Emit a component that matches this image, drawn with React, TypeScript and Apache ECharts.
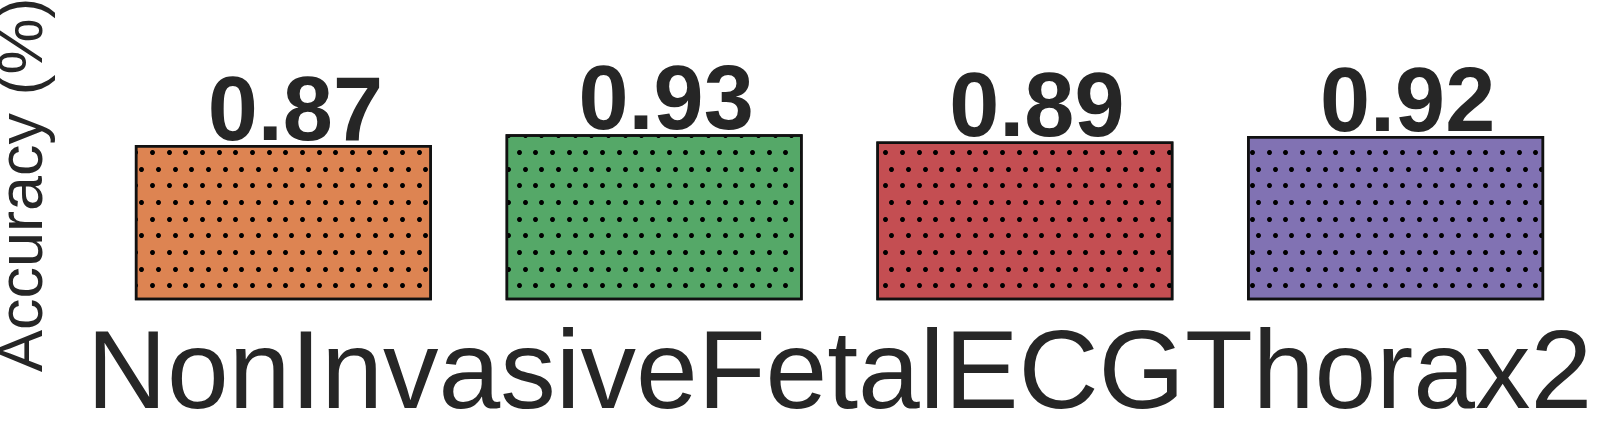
import React, { useEffect, useRef } from "react";
import * as echarts from "echarts";

const categories = ["Model 1", "Model 2", "Model 3", "Model 4"];
const accuracy = [0.87, 0.93, 0.89, 0.92];
const barColors = ["#DD8452", "#55A868", "#C44E52", "#8172B3"];
const xTitle = "NonInvasiveFetalECGThorax2";
const yTitle = "Accuracy (%)";

const FONT = "'Liberation Sans', Arial, Helvetica, sans-serif";

const dotDecal = {
  symbol: "circle",
  symbolSize: 1,
  color: "#000000",
  backgroundColor: null,
  dashArrayX: [
    [5, 12, 5, 11, 5, 12],
    [0, 6, 5, 12, 5, 11, 5, 6],
  ],
  dashArrayY: [5, 12, 5, 11, 5, 12],
};

export default function App() {
  const ref = useRef<HTMLDivElement>(null);
  useEffect(() => {
    if (!ref.current) return;
    const chart = echarts.init(ref.current, undefined, { renderer: "svg" });
    chart.setOption({
      animation: false,
      backgroundColor: "#ffffff",
      grid: {
        left: 98,
        right: 33,
        top: 69.1,
        bottom: 130.7,
        containLabel: false,
        outerBoundsMode: "none",
      },
      xAxis: {
        type: "category",
        data: categories,
        axisLine: { show: false },
        axisTick: { show: false },
        axisLabel: { show: false },
        splitLine: { show: false },
        name: xTitle,
        nameLocation: "middle",
        nameGap: 14,
        nameTextStyle: {
          fontFamily: FONT,
          fontSize: 111,
          lineHeight: 111,
          color: "#262626",
        },
      },
      yAxis: {
        type: "value",
        min: 0,
        max: 1.295,
        axisLine: { show: false },
        axisTick: { show: false },
        axisLabel: { show: false },
        splitLine: { show: false },
        name: yTitle,
        nameLocation: "middle",
        nameRotate: 90,
        nameGap: 46.3,
        nameTextStyle: {
          fontFamily: FONT,
          fontSize: 63,
          lineHeight: 63,
          color: "#262626",
        },
      },
      series: [
        {
          type: "bar",
          barWidth: 297,
          data: accuracy.map((v, i) => ({
            value: v,
            itemStyle: {
              color: barColors[i],
              borderColor: "#111111",
              borderWidth: 2.5,
              decal: dotDecal,
            },
          })),
          label: {
            show: true,
            position: "top",
            distance: -9,
            offset: [12, 0],
            formatter: (p: any) => Number(p.value).toFixed(2),
            fontFamily: FONT,
            fontWeight: "bold",
            fontSize: 90,
            lineHeight: 90,
            color: "#262626",
          },
        },
      ],
    });
    return () => chart.dispose();
  }, []);
  return (
    <div
      ref={ref}
      style={{ position: "absolute", left: 0, top: 0, width: 1614, height: 431 }}
    />
  );
}
